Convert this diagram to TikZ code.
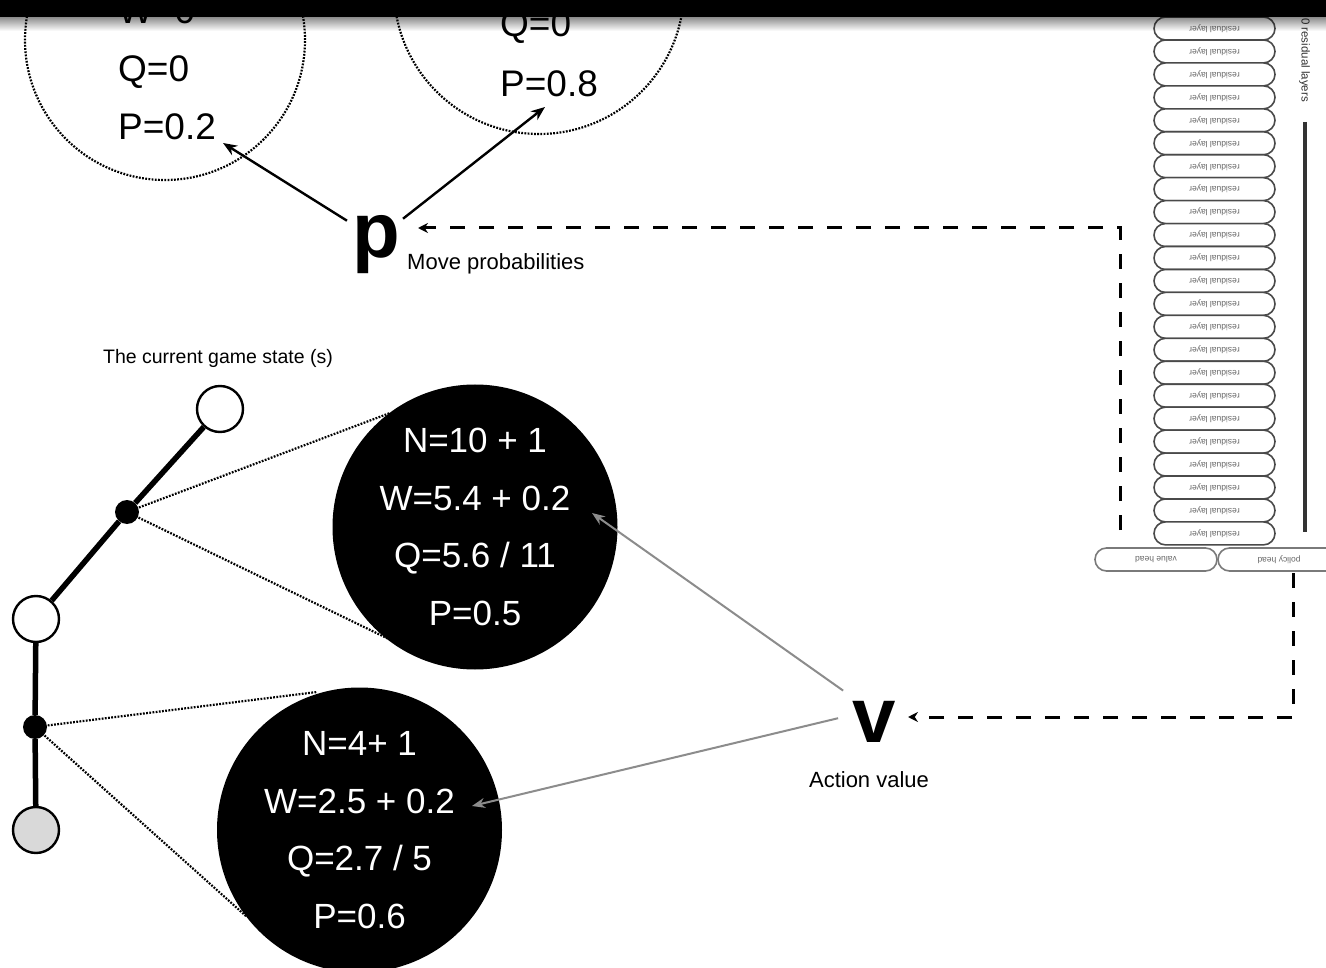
\documentclass[tikz,border=0pt]{standalone}
\usepackage{fontspec}
\setmainfont{Liberation Sans}
\usetikzlibrary{arrows.meta}
\definecolor{pillgray}{HTML}{4A4A4A}
\definecolor{headgray}{HTML}{7A7A7A}
\definecolor{valgray}{HTML}{8C8C8C}
\definecolor{leafgray}{HTML}{D9D9D9}
\definecolor{railgray}{HTML}{333333}
\begin{document}
\begin{tikzpicture}[x=1pt,y=-1pt,
  dotline/.style={line width=2.2pt, dash pattern=on 1.8pt off 1.4pt},
  ghost/.style={circle, draw=black, dotline, inner sep=0pt},
  qlabel/.style={anchor=base west, inner sep=0pt, font=\fontsize{37}{37}\selectfont},
  statcircle/.style={circle, fill=black, inner sep=0pt, minimum size=285pt, text=white,
    align=center, font=\fontsize{35}{57.7}\selectfont},
  state/.style={circle, draw=black, line width=2.4pt, fill=white, minimum size=46pt, inner sep=0pt},
  bigdot/.style={circle, fill=black, minimum size=24pt, inner sep=0pt},
  branch/.style={line width=5.5pt},
  bigletter/.style={anchor=base, inner sep=0pt, font=\fontsize{78}{78}\bfseries\selectfont},
  caption/.style={inner sep=0pt, font=\fontsize{22}{22}\selectfont},
  parrow/.style={line width=2.4pt, -{Stealth[length=14pt,width=11pt]}},
  varrow/.style={line width=2pt, draw=valgray, -{Stealth[length=13pt,width=10pt]}},
  feed/.style={line width=3pt, dash pattern=on 15pt off 14pt, -{Stealth[length=10pt,width=10pt]}},
  pill/.style={rectangle, rounded corners=11.5pt, draw=pillgray, line width=1.6pt, fill=white,
    minimum width=121pt, minimum height=22.95pt, inner sep=0pt, text=gray!80!black,
    font=\fontsize{8.5}{8.5}\selectfont},
  headpill/.style={pill, draw=headgray, minimum width=122pt, minimum height=23pt},
]
\clip (0,0) rectangle (1326,968);
\fill[white] (0,0) rectangle (1326,968);

% --- child nodes of the search tree (dotted, unexpanded) ---
\node[ghost, minimum size=280pt] (childA) at (165,40) {};
\node[ghost, minimum size=290pt] (childB) at (539,-11) {};
\node[qlabel] (wA) at (118,24) {W=0};
\node[qlabel] (qA) at (118,82) {Q=0};
\node[qlabel] (pA) at (118,140) {P=0.2};
\node[qlabel] (qB) at (500,37) {Q=0};
\node[qlabel] (pB) at (500,97) {P=0.8};

% --- policy output ---
\node[bigletter] (p) at (376,258) {p};
\node[caption, anchor=base west] (plabel) at (407,270) {Move probabilities};
\coordinate (tipA) at (223,143);
\coordinate (tipB) at (545,107);
\draw[parrow] ([shift={(-5,5)}]p.north west) -- (tipA);
\draw[parrow] ([shift={(3,3)}]p.north east) -- (tipB);

% --- current game state: path through the tree ---
\node[font=\fontsize{19.5}{19.5}\selectfont, anchor=base, inner sep=0pt] (gstate) at (218,363) {The current game state (s)};
\node[state] (s0) at (220,409) {};
\node[bigdot] (e0) at (127,512) {};
\node[state] (s1) at (36,619) {};
\node[bigdot] (e1) at (35,727) {};
\node[state, fill=leafgray] (s2) at (36,830) {};
\draw[branch] (s0) -- (e0) -- (s1) -- (e1) -- (s2);

% --- edge statistics ---
\node[statcircle] (statA) at (475,527) {N=10 + 1\\W=5.4 + 0.2\\Q=5.6 / 11\\P=0.5};
\node[statcircle] (statB) at (359.5,830) {N=4+ 1\\W=2.5 + 0.2\\Q=2.7 / 5\\P=0.6};
\coordinate (aTop) at (390,413);
\coordinate (aBot) at (397,643);
\coordinate (bTop) at (317,692);
\coordinate (bBot) at (247,917);
\draw[dotline] (e0.center) -- (aTop);
\draw[dotline] (e0.center) -- (aBot);
\draw[dotline] (e1.center) -- (bTop);
\draw[dotline] (e1.center) -- (bBot);

% --- value output ---
\node[bigletter] (v) at (874,742) {v};
\node[caption, anchor=base] (vlabel) at (869,787) {Action value};
\coordinate (vA) at (592,513);
\coordinate (vB) at (472,806);
\draw[varrow] ([shift={(-9,-10)}]v.north west) -- (vA);
\draw[varrow] ([shift={(-14,-24)}]v.south west) -- (vB);

% --- residual tower ---
\foreach \i in {0,...,22} {
  \pgfmathsetmacro\yy{28.5+22.95*\i}
  \node[pill, rotate=180] (res\i) at (1214.5,\yy) {residual layer};
}
\node[headpill, rotate=180] (vhead) at (1156,559.5) {value head};
\node[headpill, rotate=180] (phead) at (1279,559.5) {policy head};
\coordinate (railTop) at (1305,122);
\coordinate (railBot) at (1305,532);
\draw[line width=3.5pt, railgray] (railTop) -- (railBot);
\node[rotate=-90, anchor=west, inner sep=0pt, text=railgray, font=\fontsize{11.5}{11.5}\selectfont] (nres) at (1304.5,18) {0 residual layers};

% --- network outputs fed back ---
\coordinate (pfeed) at (1120,530);
\coordinate (pin) at (418,228);
\coordinate (vfeed) at (1293,573);
\coordinate (vin) at (908,717);
\draw[feed] (pfeed) |- (pin);
\draw[feed] (vfeed) |- (vin);

% --- window bar ---
\fill[black] (0,0) rectangle (1326,17);
\foreach \k in {0,...,13} {
  \pgfmathsetmacro\op{0.45*(1-\k/14)}
  \fill[black, opacity=\op] (0,17+\k) rectangle (1326,18+\k);
}
\end{tikzpicture}
\end{document}
